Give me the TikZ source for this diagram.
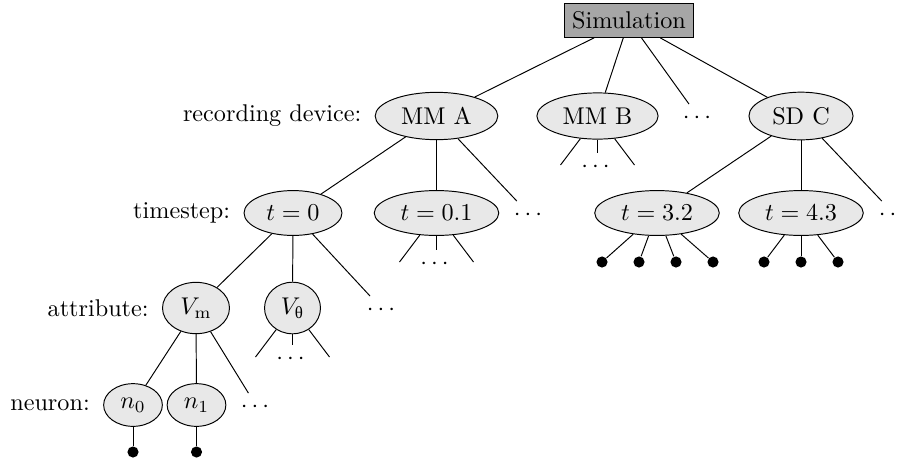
\documentclass[tikz,border=0pt]{standalone}
\usepackage{amsmath}
\usepackage{fontspec}
\newfontfamily\grk{Liberation Serif}
\usetikzlibrary{positioning, shapes.geometric}
\tikzset{
  simbox/.style={rectangle, draw, fill=gray!70},
  rec/.style={ellipse, draw, fill=gray!18},
  more/.style={inner sep=3.33pt},
  leaf/.style={circle, fill=black, inner sep=0pt, minimum size=4.6pt}
}

\begin{document}
\begin{tikzpicture}[x=0.4132pt, y=-0.4132pt]
    \clip (0,0) rectangle (899,460);
    % top
    \node[simbox] (sim) at (629,20.5) {Simulation};
    % recording devices
    \node[rec] (mma) at (436.5,116) {MM A};
    \node[rec] (mmb) at (597.5,116) {MM B};
    \node[more] (dev-m) at (699,118) {$\cdots$};
    \node[rec] (sdc) at (801,116) {SD C};
    % timesteps
    \node[rec] (t0) at (293,213) {$t=0$};
    \node[rec] (t01) at (436.5,213) {$t=0.1$};
    \node[more] (mma-m) at (530,215) {$\cdots$};
    \node[rec] (t32) at (657,213) {$t=3.2$};
    \node[rec] (t43) at (801,213) {$t=4.3$};
    \node[more] (sdc-m) at (895,215) {$\cdots$};
    % attributes
    \node[rec] (vm) at (196,308) {$V_\mathrm{m}$};
    \node[rec] (vth) at (292.5,308) {$V_{\text{\grk θ}}$};
    \node[more] (t0-m) at (383,310) {$\cdots$};
    % neurons
    \node[rec] (n0) at (133,405) {$n_0$};
    \node[rec] (n1) at (196.5,405) {$n_1$};
    \node[more] (vm-m) at (257,407) {$\cdots$};
    % level labels
    \node[left=2pt of mma] (l-dev) {recording device:};
    \node[left=2pt of t0] (l-ts) {timestep:};
    \node[left=2pt of vm] (l-att) {attribute:};
    \node[left=2pt of n0] (l-neu) {neuron:};
    % data points
    \node[leaf] (n0-d) at (133,452) {};
    \node[leaf] (n1-d) at (196.5,452) {};
    \node[leaf] (t32-a) at (602,262) {};
    \node[leaf] (t32-b) at (639,262) {};
    \node[leaf] (t32-c) at (676,262) {};
    \node[leaf] (t32-d) at (713,262) {};
    \node[leaf] (t43-a) at (764,262) {};
    \node[leaf] (t43-b) at (801,262) {};
    \node[leaf] (t43-c) at (838,262) {};
    % collapsed subtrees
    \node[more] (mmb-m) at (597.5,167) {$\cdots$};
    \coordinate (mmb-l) at (560.5,165);
    \coordinate (mmb-r) at (634.5,165);
    \node[more] (t01-m) at (436.5,264) {$\cdots$};
    \coordinate (t01-l) at (399.5,262);
    \coordinate (t01-r) at (473.5,262);
    \node[more] (vth-m) at (292.5,359) {$\cdots$};
    \coordinate (vth-l) at (255.5,357);
    \coordinate (vth-r) at (329.5,357);
    % edges
    \draw (sim) -- (mma);
    \draw (sim) -- (mmb);
    \draw (sim) -- (dev-m);
    \draw (sim) -- (sdc);
    \draw (mma) -- (t0);
    \draw (mma) -- (t01);
    \draw (mma) -- (mma-m);
    \draw (sdc) -- (t32);
    \draw (sdc) -- (t43);
    \draw (sdc) -- (sdc-m);
    \draw (t0) -- (vm);
    \draw (t0) -- (vth);
    \draw (t0) -- (t0-m);
    \draw (vm) -- (n0);
    \draw (vm) -- (n1);
    \draw (vm) -- (vm-m);
    \draw (n0) -- (n0-d);
    \draw (n1) -- (n1-d);
    \draw (t32) -- (t32-a);
    \draw (t32) -- (t32-b);
    \draw (t32) -- (t32-c);
    \draw (t32) -- (t32-d);
    \draw (t43) -- (t43-a);
    \draw (t43) -- (t43-b);
    \draw (t43) -- (t43-c);
    \draw (mmb) -- (mmb-l);
    \draw (mmb) -- (mmb-m);
    \draw (mmb) -- (mmb-r);
    \draw (t01) -- (t01-l);
    \draw (t01) -- (t01-m);
    \draw (t01) -- (t01-r);
    \draw (vth) -- (vth-l);
    \draw (vth) -- (vth-m);
    \draw (vth) -- (vth-r);
\end{tikzpicture}
\end{document}
